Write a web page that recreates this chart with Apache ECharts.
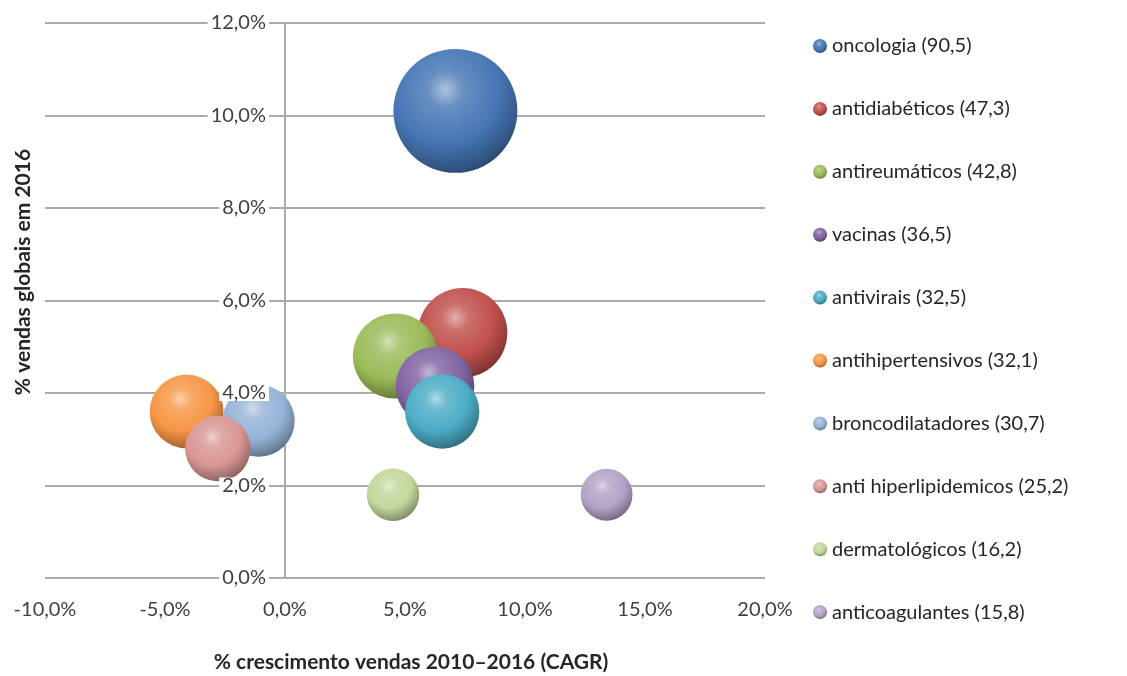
<!DOCTYPE html>
<html>
<head>
<meta charset="utf-8">
<script src="https://cdn.jsdelivr.net/npm/echarts@6/dist/echarts.min.js"></script>
<style>
  html, body { margin: 0; padding: 0; background: #ffffff; }
  #chart { width: 1127px; height: 676px; }
</style>
</head>
<body>
<div id="chart"></div>
<script>
// Therapeutic classes, 2016 sales (US$ bn), growth and share of global sales
const categories = [
  'oncologia', 'antidiabéticos', 'antireumáticos', 'vacinas', 'antivirais',
  'antihipertensivos', 'broncodilatadores', 'anti hiperlipidemicos',
  'dermatológicos', 'anticoagulantes'
];
const sales2016 = [90.5, 47.3, 42.8, 36.5, 32.5, 32.1, 30.7, 25.2, 16.2, 15.8];
const growthCagr = [7.1, 7.4, 4.6, 6.25, 6.55, -4.1, -1.1, -2.8, 4.5, 13.4];
const globalShare = [10.1, 5.3, 4.8, 4.15, 3.6, 3.6, 3.4, 2.8, 1.8, 1.8];
const baseColors = [
  '#4676b4', '#c0504d', '#9bbb59', '#8064a2', '#4bacc6',
  '#f79646', '#95b3d7', '#d99694', '#c3d69b', '#b3a2c7'
];

// Axis ticks (percent)
const xTicks = [-10, -5, 0, 5, 10, 15, 20];
const yTicks = [0, 2, 4, 6, 8, 10, 12];

const FONT = 'Lato, "Open Sans", sans-serif';
const pct = v => v.toFixed(1).replace('.', ',') + '%';
const dec = v => v.toFixed(1).replace('.', ',');

function mix(hex, target, t) {
  const n = parseInt(hex.slice(1), 16);
  const r = (n >> 16) & 255, g = (n >> 8) & 255, b = n & 255;
  const tr = target === 'w' ? 255 : 0;
  const f = c => Math.round(c + (tr - c) * t);
  return 'rgb(' + f(r) + ',' + f(g) + ',' + f(b) + ')';
}

// Glossy sphere fill for a bubble
function sphere(hex) {
  return {
    type: 'radial', x: 0.42, y: 0.33, r: 0.74,
    colorStops: [
      { offset: 0, color: mix(hex, 'w', 0.55) },
      { offset: 0.2, color: mix(hex, 'w', 0.18) },
      { offset: 0.58, color: hex },
      { offset: 0.86, color: mix(hex, 'k', 0.28) },
      { offset: 1, color: mix(hex, 'k', 0.5) }
    ]
  };
}

const sizeScale = 13.03; // diameter per sqrt(US$ bn)

// Plot area (px)
const gridLeft = 45, gridRight = 362, gridTop = 23, gridBottom = 98;
const plotWidth = 1127 - gridLeft - gridRight;
const xMin = xTicks[0], xMax = xTicks[xTicks.length - 1];
// shift for the labelled y axis so it sits where x = 0
const yAxisShift = -(0 - xMin) / (xMax - xMin) * plotWidth;

const series = categories.map((c, i) => ({
  type: 'scatter',
  name: c + ' (' + dec(sales2016[i]) + ')',
  data: [[growthCagr[i], globalShare[i], sales2016[i]]],
  symbolSize: d => sizeScale * Math.sqrt(d[2]),
  itemStyle: { color: sphere(baseColors[i]), opacity: 1 },
  emphasis: { disabled: true },
  z: 2
}));

const chart = echarts.init(document.getElementById('chart'), null, { renderer: 'canvas' });

chart.setOption({
  animation: false,
  backgroundColor: '#ffffff',
  grid: {
    left: gridLeft, right: gridRight, top: gridTop, bottom: gridBottom,
    containLabel: false, outerBoundsMode: 'none'
  },
  xAxis: {
    type: 'value',
    min: xMin, max: xMax, interval: xTicks[1] - xTicks[0],
    axisLine: { show: false },
    axisTick: { show: false },
    splitLine: { show: false },
    axisLabel: {
      formatter: pct, margin: 22,
      color: '#404040', fontSize: 20, fontFamily: FONT
    }
  },
  yAxis: [
    {
      type: 'value',
      min: yTicks[0], max: yTicks[yTicks.length - 1], interval: yTicks[1] - yTicks[0],
      axisLine: { show: true, onZero: true, lineStyle: { color: '#ababab', width: 2 } },
      axisTick: { show: false },
      axisLabel: { show: false },
      splitLine: { show: true, lineStyle: { color: '#ababab', width: 2 } },
      z: 0
    },
    {
      type: 'value',
      position: 'left',
      offset: yAxisShift,
      min: yTicks[0], max: yTicks[yTicks.length - 1], interval: yTicks[1] - yTicks[0],
      axisLine: { show: false, onZero: false },
      axisTick: { show: false },
      splitLine: { show: false },
      axisLabel: {
        formatter: pct, margin: 16,
        color: '#404040', fontSize: 20, fontFamily: FONT,
        backgroundColor: '#ffffff', padding: [-2, 3]
      },
      z: 10
    }
  ],
  legend: {
    orient: 'vertical',
    left: 808, top: 29,
    icon: 'circle',
    itemWidth: 14, itemHeight: 14,
    itemGap: 38.9,
    selectedMode: false,
    textStyle: { fontSize: 20, lineHeight: 24, color: '#262626', fontFamily: FONT }
  },
  graphic: [
    {
      type: 'text', x: 411, y: 662,
      style: {
        text: '% crescimento vendas 2010–2016 (CAGR)',
        font: 'bold 21px ' + FONT, fill: '#262626',
        textAlign: 'center', textVerticalAlign: 'middle'
      }
    },
    {
      type: 'text', x: 23, y: 272, rotation: Math.PI / 2,
      style: {
        text: '% vendas globais em 2016',
        font: 'bold 21px ' + FONT, fill: '#262626',
        textAlign: 'center', textVerticalAlign: 'middle'
      }
    }
  ],
  series: series
});
</script>
</body>
</html>
